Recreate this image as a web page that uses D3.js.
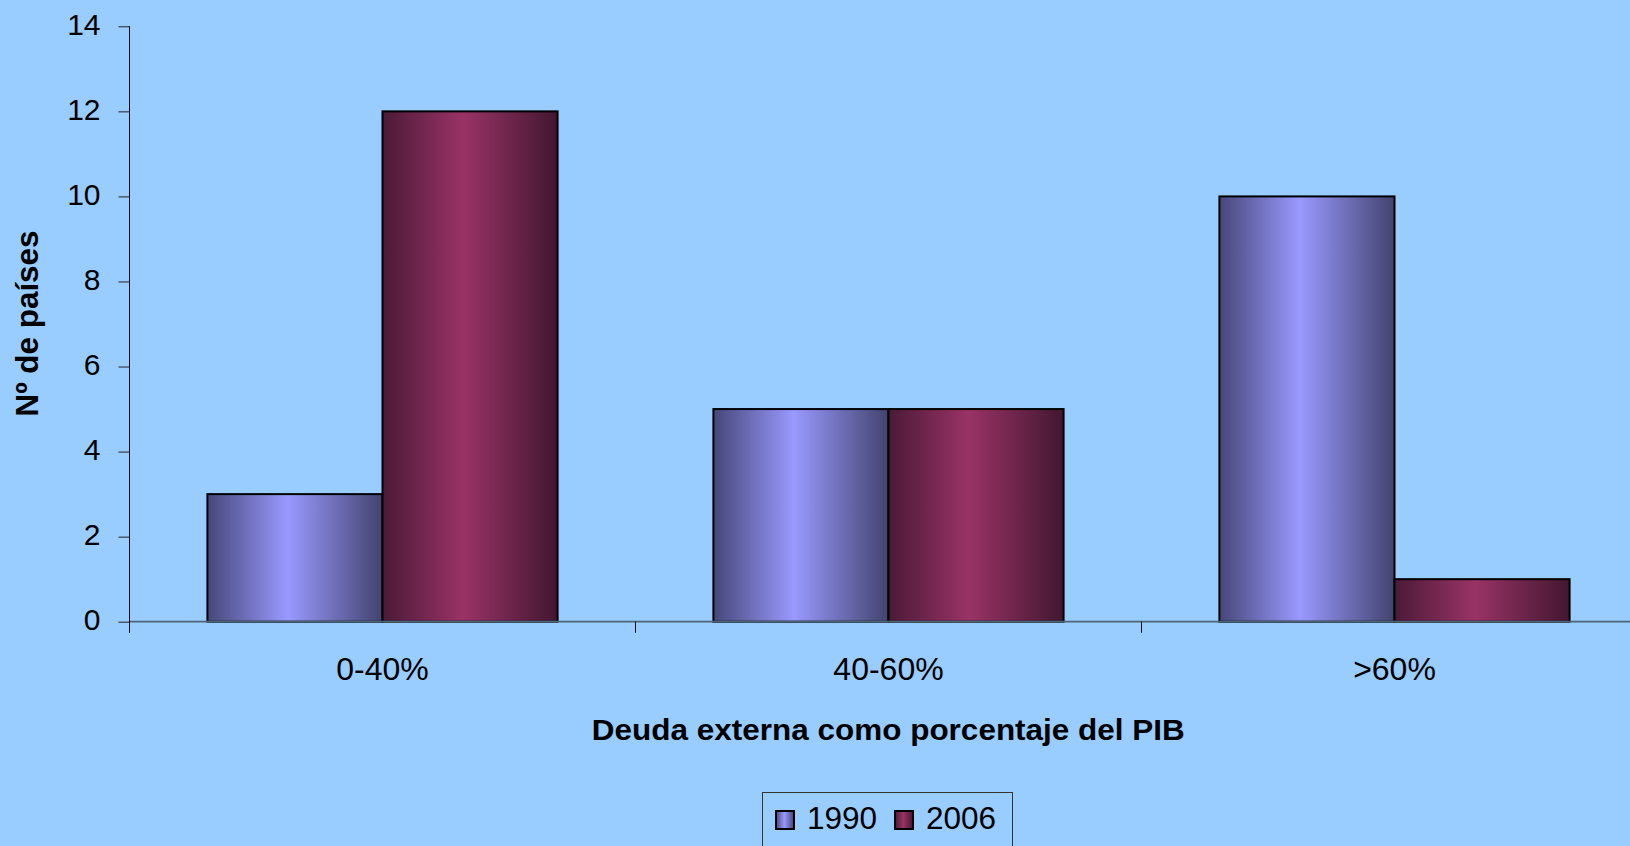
<!DOCTYPE html>
<html>
<head>
<meta charset="utf-8">
<script src="https://cdn.jsdelivr.net/npm/d3@7/dist/d3.min.js"></script>
<style>
  html, body { margin: 0; padding: 0; background: #99CCFF; }
  svg { display: block; font-family: "Liberation Sans", Arial, sans-serif; }
</style>
</head>
<body>
<svg id="chart" width="1630" height="846"></svg>
<script>
const categories = ["0-40%", "40-60%", ">60%"];
const seriesNames = ["1990", "2006"];
const values1990 = [3, 5, 10];
const values2006 = [12, 5, 1];
const yTicks = [0, 2, 4, 6, 8, 10, 12, 14];
const yTitle = "Nº de países";
const xTitle = "Deuda externa como porcentaje del PIB";

const seriesValues = { "1990": values1990, "2006": values2006 };
const colors = {
  "1990": ["#47477a", "#9999ff", "#43436f"],
  "2006": ["#4b1a37", "#993366", "#421730"]
};

const svg = d3.select("#chart");
const W = 1630, H = 846;
svg.append("rect").attr("width", W).attr("height", H).attr("fill", "#99CCFF");

const defs = svg.append("defs");
seriesNames.forEach(s => {
  const g = defs.append("linearGradient").attr("id", "grad" + s)
    .attr("x1", "0%").attr("x2", "100%").attr("y1", "0%").attr("y2", "0%");
  g.append("stop").attr("offset", "0%").attr("stop-color", colors[s][0]);
  g.append("stop").attr("offset", "46%").attr("stop-color", colors[s][1]);
  g.append("stop").attr("offset", "100%").attr("stop-color", colors[s][2]);
});

const plotLeft = 129.5, plotTop = 26.3, plotBottom = 621.7;
const bandW = 506;
const x0 = d3.scaleBand().domain(categories)
  .range([plotLeft, plotLeft + bandW * categories.length]).padding(0);
const x1 = d3.scaleBand().domain(seriesNames)
  .range([0, x0.bandwidth()]).paddingInner(0).paddingOuter(0.445);
const y = d3.scaleLinear().domain([0, 14]).range([plotBottom, plotTop]);

// Bars
const groups = svg.append("g").selectAll("g").data(categories).join("g")
  .attr("transform", d => `translate(${x0(d)},0)`);
groups.selectAll("rect")
  .data((c, i) => seriesNames.map(s => ({ s, v: seriesValues[s][i] })))
  .join("rect")
  .attr("x", d => x1(d.s))
  .attr("y", d => y(d.v))
  .attr("width", x1.bandwidth())
  .attr("height", d => y(0) - y(d.v))
  .attr("fill", d => `url(#grad${d.s})`)
  .attr("stroke", "#000")
  .attr("stroke-width", 2);

// X axis baseline
svg.append("line")
  .attr("x1", plotLeft).attr("x2", W)
  .attr("y1", y(0)).attr("y2", y(0))
  .attr("stroke", "#4d6577").attr("stroke-width", 1.8);

// Category tick marks (boundaries)
const boundaries = categories.map(c => x0(c));
svg.append("g").selectAll("line").data(boundaries).join("line")
  .attr("x1", d => d).attr("x2", d => d)
  .attr("y1", y(0)).attr("y2", y(0) + 11)
  .attr("stroke", "#000").attr("stroke-width", 1);

// Category labels
svg.append("g").selectAll("text").data(categories).join("text")
  .attr("x", d => x0(d) + x0.bandwidth() / 2)
  .attr("y", 680)
  .attr("text-anchor", "middle")
  .attr("font-size", 32)
  .attr("fill", "#000")
  .text(d => d);

// Y axis
const yAxis = d3.axisLeft(y).tickValues(yTicks).tickSize(11).tickPadding(18).tickFormat(d3.format("d"));
const yg = svg.append("g").attr("transform", `translate(${plotLeft},0)`).call(yAxis);
yg.select(".domain").remove();
yg.selectAll(".tick line").attr("stroke", "#222");
yg.selectAll(".tick text").attr("font-size", 30).attr("font-family", "Liberation Sans, Arial, sans-serif")
  .attr("fill", "#000").attr("dy", "0.27em");
svg.append("line")
  .attr("x1", plotLeft).attr("x2", plotLeft)
  .attr("y1", plotTop).attr("y2", y(0) + 11)
  .attr("stroke", "#000").attr("stroke-width", 1);

// Axis titles
svg.append("text")
  .attr("transform", `translate(38, ${323.5}) rotate(-90)`)
  .attr("text-anchor", "middle")
  .attr("font-size", 31.5).attr("font-weight", "bold")
  .attr("textLength", 186).attr("lengthAdjust", "spacingAndGlyphs")
  .text(yTitle);

svg.append("text")
  .attr("x", 888.3).attr("y", 740)
  .attr("text-anchor", "middle")
  .attr("font-size", 30).attr("font-weight", "bold")
  .attr("textLength", 593).attr("lengthAdjust", "spacingAndGlyphs")
  .text(xTitle);

// Legend
const legend = svg.append("g");
legend.append("rect")
  .attr("x", 762.5).attr("y", 792.5).attr("width", 250).attr("height", 70)
  .attr("fill", "none").attr("stroke", "#333").attr("stroke-width", 1);
const legendX = [776, 895];
seriesNames.forEach((s, i) => {
  legend.append("rect")
    .attr("x", legendX[i]).attr("y", 811).attr("width", 18).attr("height", 18)
    .attr("fill", `url(#grad${s})`).attr("stroke", "#000").attr("stroke-width", 2);
  legend.append("text")
    .attr("x", legendX[i] + 31).attr("y", 828.5)
    .attr("font-size", 31.5).attr("fill", "#000")
    .text(s);
});
</script>
</body>
</html>
